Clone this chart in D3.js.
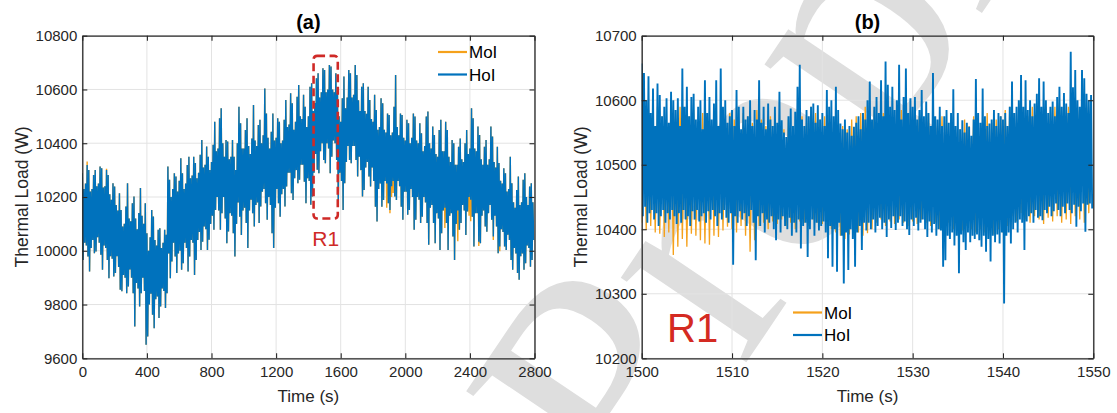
<!DOCTYPE html>
<html>
<head>
<meta charset="utf-8">
<script src="https://cdn.jsdelivr.net/npm/d3@7"></script>
<style>
  html, body { margin: 0; padding: 0; background: #fff; }
  svg { display: block; font-family: "Liberation Sans", Arial, Helvetica, sans-serif; }
</style>
</head>
<body>
<svg id="chart" width="1117" height="413"></svg>
<script>
// ---------- Panel (a): full run, 10 s bins (peak / trough of each bin) ----------
const binStartA = 0;
const binStepA = 10;
const hoiHighA = [
  10288,10230,10250,10319,10300,10220,10230,10282,10300,10240,10250,10313,10307,10235,10240,10300,10282,10210,10190,10251,
  10239,10170,10150,10214,10152,10090,10100,10165,10251,10120,10110,10177,10202,10120,10080,10140,10233,10130,10100,10177,
  10065,10000,10050,10152,10127,10040,10020,10078,10084,10010,10030,10078,10060,10313,10264,10200,10230,10288,10276,10220,
  10260,10344,10288,10230,10250,10319,10350,10270,10280,10350,10326,10270,10290,10357,10412,10310,10320,10388,10350,10300,
  10330,10394,10480,10370,10380,10493,10530,10400,10350,10412,10406,10340,10350,10412,10350,10300,10400,10536,10474,10380,
  10380,10449,10493,10390,10360,10418,10542,10410,10390,10468,10487,10400,10430,10604,10511,10420,10380,10443,10511,10410,
  10420,10493,10480,10400,10410,10487,10561,10460,10470,10586,10549,10450,10480,10573,10617,10500,10490,10580,10536,10460,
  10500,10610,10623,10520,10550,10642,10660,10570,10590,10679,10672,10590,10600,10691,10685,10600,10590,10660,10586,10500,
  10480,10567,10648,10530,10570,10672,10660,10570,10580,10691,10654,10560,10520,10610,10623,10520,10510,10610,10561,10490,
  10480,10580,10524,10450,10460,10567,10549,10450,10440,10511,10505,10430,10440,10536,10654,10460,10430,10511,10505,10420,
  10410,10487,10474,10400,10420,10511,10499,10410,10400,10474,10437,10370,10390,10499,10518,10400,10380,10462,10431,10360,
  10350,10449,10487,10370,10370,10480,10449,10350,10330,10412,10400,10320,10320,10387,10418,10340,10330,10400,10449,10360,
  10380,10530,10493,10380,10370,10462,10431,10340,10320,10387,10412,10320,10340,10462,10425,10330,10310,10387,10326,10260,
  10250,10307,10288,10220,10230,10350,10251,10180,10160,10226,10276,10170,10180,10264,10288,10200,10170,10239,10251,10180
];
const hoiLowA = [
  9966,10030,10020,9979,9923,10010,10040,9991,9997,10050,10030,9985,9929,10020,10010,9966,9898,9980,9970,9904,
  9917,9980,9940,9855,9849,9910,9900,9842,9867,9930,9900,9842,9718,9880,9860,9793,9842,9900,9850,9650,
  9681,9800,9840,9762,9712,9820,9830,9750,9793,9860,9850,9787,9842,9990,9898,9960,10030,9979,9917,9990,
  10000,9929,9954,10030,10010,9923,9979,10040,10030,9910,9966,10040,10070,10003,10034,10090,10080,10003,10041,10100,
  10130,10078,10152,10200,10150,10078,10140,10200,10120,10028,10072,10140,10130,10065,9979,10100,10180,10127,10059,10150,
  10160,10103,10010,10150,10190,10140,10090,10170,10180,10103,10165,10220,10230,10177,10115,10200,10170,10065,10010,10160,
  10230,10177,10127,10210,10230,10165,10239,10290,10290,10214,10189,10270,10300,10251,10264,10320,10320,10257,10177,10270,
  10260,10171,10202,10290,10360,10301,10288,10370,10400,10338,10326,10400,10380,10288,10350,10410,10400,10338,10177,10290,
  10260,10152,10251,10330,10390,10338,10326,10390,10390,10338,10276,10350,10300,10202,10226,10310,10330,10276,10239,10310,
  10260,10164,10109,10230,10250,10164,10189,10260,10250,10177,10152,10240,10260,10202,10189,10260,10240,10164,10115,10220,
  10220,10134,10152,10230,10200,10078,10115,10200,10190,10103,10127,10200,10180,10103,10022,10160,10170,10103,10028,10140,
  10120,10003,10065,10150,10160,10103,10003,10130,10140,10053,9966,10100,10150,10078,10103,10170,10150,10059,10146,10200,
  10190,10127,10016,10140,10140,10034,10028,10130,10150,10090,10071,10140,10170,10115,10053,10130,10090,9991,10016,10080,
  10070,10016,10003,10060,10040,9966,9929,10010,9990,9917,9892,9980,9990,9929,9954,10020,10010,9941,9966,10040
];
const moiHighA = [
  10288,10230,10250,10332,10300,10220,10230,10282,10300,10240,10250,10313,10307,10235,10240,10305,10282,10210,10190,10251,
  10239,10170,10150,10214,10152,10090,10100,10165,10251,10120,10110,10177,10202,10120,10080,10140,10233,10130,10100,10177,
  10065,10000,10050,10152,10127,10040,10020,10078,10084,10010,10030,10078,10060,10313,10264,10200,10230,10288,10276,10220,
  10260,10344,10288,10230,10250,10319,10350,10270,10280,10350,10326,10270,10290,10357,10412,10310,10320,10388,10350,10300,
  10330,10394,10480,10370,10380,10493,10530,10400,10350,10412,10406,10340,10350,10412,10350,10300,10400,10536,10474,10380,
  10380,10449,10493,10390,10360,10418,10542,10410,10390,10468,10487,10400,10430,10604,10511,10420,10380,10443,10511,10410,
  10420,10493,10480,10400,10410,10487,10561,10460,10470,10586,10549,10450,10480,10573,10617,10500,10490,10580,10536,10460,
  10500,10610,10623,10520,10550,10642,10660,10570,10590,10679,10672,10590,10600,10691,10685,10600,10590,10660,10586,10500,
  10480,10567,10648,10530,10570,10672,10660,10570,10580,10691,10654,10560,10520,10610,10623,10520,10510,10610,10561,10490,
  10480,10580,10524,10450,10460,10567,10549,10450,10440,10511,10505,10430,10440,10536,10654,10460,10430,10511,10505,10420,
  10410,10487,10474,10400,10420,10511,10499,10410,10400,10474,10437,10370,10390,10499,10518,10400,10380,10462,10431,10360,
  10350,10449,10487,10370,10370,10480,10449,10350,10330,10412,10400,10320,10320,10387,10418,10340,10330,10400,10449,10360,
  10380,10530,10493,10380,10370,10462,10431,10340,10320,10387,10412,10320,10340,10462,10425,10330,10310,10387,10326,10260,
  10250,10307,10288,10220,10230,10350,10251,10180,10160,10226,10276,10170,10180,10264,10288,10200,10170,10239,10251,10180
];
const moiLowA = [
  9966,10030,10020,9979,9923,10010,10040,9991,9997,10050,10030,9985,9929,10020,10010,9966,9898,9980,9970,9904,
  9917,9980,9940,9855,9849,9910,9900,9842,9867,9930,9900,9842,9718,9880,9860,9793,9842,9900,9850,9650,
  9681,9800,9840,9762,9712,9820,9830,9750,9793,9860,9850,9787,9842,9990,9898,9960,10030,9979,9917,9990,
  10000,9929,9954,10030,10010,9923,9979,10040,10030,9910,9966,10040,10070,10003,10034,10090,10080,10003,10041,10100,
  10130,10078,10152,10200,10150,10078,10140,10200,10120,10028,10072,10140,10130,10065,9979,10100,10180,10127,10059,10150,
  10160,10103,10010,10150,10190,10140,10090,10170,10180,10103,10165,10220,10230,10177,10115,10200,10170,10065,10010,10160,
  10230,10177,10127,10210,10230,10165,10239,10290,10290,10214,10189,10270,10300,10251,10264,10320,10320,10257,10177,10270,
  10260,10171,10202,10290,10360,10301,10288,10370,10400,10338,10326,10400,10380,10288,10350,10410,10400,10338,10177,10290,
  10260,10152,10251,10330,10390,10338,10326,10390,10390,10338,10276,10350,10300,10202,10226,10310,10330,10276,10239,10310,
  10260,10164,10109,10230,10250,10164,10189,10260,10160,10177,10140,10200,10215,10202,10189,10260,10240,10164,10115,10220,
  10220,10134,10152,10230,10200,10078,10115,10200,10190,10103,10127,10200,10180,10103,10022,10160,10170,10103,10028,10140,
  10120,10003,10065,10150,10085,10103,10003,10130,10140,10053,9966,10100,10035,10078,10103,10170,10150,10059,10146,10130,
  10110,10127,10016,10140,10140,10018,10028,10130,10150,10090,10071,10140,10170,10115,10040,10130,10090,9991,9998,10080,
  10070,10016,10003,10060,10040,9966,9929,10010,9990,9917,9892,9980,9990,9929,9954,10020,10010,9941,9966,10040
];
const xTicksA = [0, 400, 800, 1200, 1600, 2000, 2400, 2800];
const yTicksA = [9600, 9800, 10000, 10200, 10400, 10600, 10800];
// zoom window R1 marked on panel (a): [t0, t1] x [W0, W1]
const regionR1 = [1432, 1582, 10120, 10725];

// ---------- Panel (b): zoom on R1, 1500-1550 s ----------
const binStartB = 1500;
const hoiStepB = 0.25;
const hoiHighB = [
  10657,10642,10600,10637, 10580,10618,10560,10626, 10608,10575,10590,10603,
  10565,10613,10600,10585, 10603,10560,10649,10590, 10621,10575,10605,10610,
  10570,10590,10600,10555, 10631,10580,10605,10570, 10595,10631,10560,10649,
  10590,10600,10565,10575, 10585,10560,10616,10590, 10555,10590,10570,10575,
  10600,10560,10585,10570, 10631,10565,10590,10555, 10595,10570,10560,10590,
  10565,10613,10569,10550, 10543,10575,10587,10560, 10582,10621,10655,10570,
  10560,10585,10575,10590, 10595,10565,10592,10570, 10580,10560,10616,10590,
  10600,10575,10621,10585, 10564,10555,10570,10550, 10560,10545,10559,10565,
  10575,10555,10580,10570, 10600,10629,10570,10590, 10605,10580,10631,10575,
  10660,10624,10590,10621, 10585,10600,10655,10570, 10605,10649,10580,10603,
  10590,10605,10570,10585, 10616,10575,10598,10580, 10560,10642,10575,10570,
  10590,10560,10575,10585, 10565,10580,10617,10560, 10580,10555,10569,10550,
  10565,10559,10545,10570, 10633,10580,10565,10618, 10575,10560,10564,10570,
  10585,10560,10580,10575, 10570,10580,10560,10590, 10629,10580,10590,10600,
  10639,10590,10631,10585, 10600,10575,10595,10610, 10634,10590,10629,10600,
  10580,10590,10598,10575, 10605,10621,10590,10611, 10595,10580,10675,10620,
  10647,10600,10590,10647, 10634,10610,10600,10608
];
const hoiLowB = [
  10420,10435,10410,10425, 10430,10415,10425,10405, 10420,10430,10410,10425,
  10415,10430,10420,10408, 10425,10410,10430,10415, 10420,10405,10428,10415,
  10430,10412,10420,10425, 10410,10428,10415,10430, 10420,10405,10425,10415,
  10430,10418,10410,10425, 10345,10420,10410,10428, 10415,10425,10405,10420,
  10430,10410,10352,10420, 10405,10425,10395,10415, 10410,10420,10400,10383,
  10415,10395,10420,10405, 10400,10418,10390,10410, 10395,10415,10370,10405,
  10410,10357,10400,10415, 10390,10410,10398,10405, 10412,10395,10355,10405,
  10342,10400,10334,10410, 10390,10316,10395,10337, 10400,10385,10342,10395,
  10405,10368,10410,10398, 10410,10400,10415,10395, 10405,10418,10400,10410,
  10388,10415,10402,10420, 10399,10410,10420,10405, 10412,10400,10391,10415,
  10405,10418,10398,10410, 10415,10400,10388,10412, 10395,10408,10390,10400,
  10398,10342,10352,10390, 10385,10395,10375,10390, 10332,10392,10380,10368,
  10395,10380,10390,10385, 10392,10383,10373,10390, 10365,10385,10350,10390,
  10380,10392,10378,10395, 10285,10390,10395,10378, 10400,10410,10395,10415,
  10410,10368,10412,10420, 10425,10410,10430,10418, 10420,10414,10430,10425,
  10435,10420,10428,10440, 10430,10420,10435,10425, 10440,10430,10425,10438,
  10404,10435,10428,10440, 10396,10438,10440,10432
];
const moiStepB = 0.5;
const moiHighB = [
  10570,10585,10560,10590,10575,10565,10580,10570,10590,10560,
  10575,10585,10565,10580,10570,10560,10585,10575,10565,10580,
  10570,10560,10580,10575,10565,10585,10570,10560,10575,10580,
  10565,10555,10570,10560,10580,10575,10565,10590,10580,10570,
  10575,10560,10565,10550,10560,10555,10570,10575,10580,10590,
  10575,10585,10570,10580,10590,10575,10570,10585,10575,10580,
  10570,10575,10565,10580,10570,10560,10575,10565,10560,10550,
  10555,10570,10560,10575,10565,10570,10580,10565,10570,10575,
  10585,10590,10580,10595,10585,10575,10590,10585,10580,10590,
  10585,10590,10595,10580,10590,10600,10585,10595,10590,10592
];
const moiLowB = [
  10410,10399,10405,10395,10393,10388,10395,10360,10373,10385,
  10373,10393,10390,10383,10378,10376,10390,10388,10398,10404,
  10400,10395,10405,10390,10365,10383,10405,10410,10400,10412,
  10408,10415,10405,10410,10400,10412,10410,10405,10415,10410,
  10408,10412,10400,10395,10390,10385,10392,10388,10395,10390,
  10394,10400,10410,10415,10405,10412,10408,10415,10410,10405,
  10412,10408,10415,10410,10405,10410,10400,10405,10410,10400,
  10405,10398,10405,10400,10395,10400,10395,10398,10392,10400,
  10395,10405,10420,10412,10425,10415,10410,10420,10415,10408,
  10418,10412,10420,10410,10415,10408,10420,10415,10410,10425
];
const xTicksB = [1500, 1510, 1520, 1530, 1540, 1550];
const yTicksB = [10200, 10300, 10400, 10500, 10600, 10700];

const seriesNames = ["MoI", "HoI"];

// ---------- drawing ----------
const svg = d3.select("#chart");
const colour = { MoI: "#F5A11B", HoI: "#0072BD" };
const axisInk = "#262626";
const plotTop = 35.7, plotBottom = 358.3;

// light diagonal watermark behind the plots
svg.append("text")
  .attr("transform", "translate(640,520) rotate(-56)")
  .attr("font-family", "'Liberation Serif', 'DejaVu Serif', serif")
  .attr("font-size", 330)
  .attr("fill", "#dedede")
  .text("Preprint not peer reviewed");

// samples alternate between the two extremes of each bin
function binSeries(t0, step, first, second) {
  const pts = [];
  for (let i = 0; i < first.length; i++) {
    pts.push([t0 + i * step, first[i]]);
    pts.push([t0 + i * step + step / 2, second[i]]);
  }
  return pts;
}

function panel(cfg) {
  const x = d3.scaleLinear().domain(cfg.xDomain).range([cfg.left, cfg.right]);
  const y = d3.scaleLinear().domain(cfg.yDomain).range([plotBottom, plotTop]);
  const g = svg.append("g");

  // grid
  g.append("g").selectAll("line").data(cfg.xTicks).join("line")
    .attr("x1", d => x(d)).attr("x2", d => x(d))
    .attr("y1", plotTop).attr("y2", plotBottom)
    .attr("stroke", "#e3e3e3").attr("stroke-width", 1);
  g.append("g").selectAll("line").data(cfg.yTicks).join("line")
    .attr("x1", cfg.left).attr("x2", cfg.right)
    .attr("y1", d => y(d)).attr("y2", d => y(d))
    .attr("stroke", "#e3e3e3").attr("stroke-width", 1);

  // data lines
  const clipId = "clip-" + cfg.id;
  svg.append("clipPath").attr("id", clipId).append("rect")
    .attr("x", cfg.left).attr("y", plotTop)
    .attr("width", cfg.right - cfg.left).attr("height", plotBottom - plotTop);
  const line = d3.line().x(d => x(d[0])).y(d => y(d[1]));
  const lines = g.append("g").attr("clip-path", `url(#${clipId})`);
  cfg.series.forEach(s => {
    lines.append("path")
      .attr("d", line(s.points))
      .attr("fill", "none")
      .attr("stroke", colour[s.name])
      .attr("stroke-width", s.width)
      .attr("stroke-linejoin", "miter");
  });

  // box axes with inward ticks
  const fmt = d3.format("d");
  const styleAxis = sel => {
    sel.select(".domain").attr("stroke", axisInk).attr("stroke-width", 1.3);
    sel.selectAll(".tick line").attr("stroke", axisInk).attr("stroke-width", 1.1);
    sel.selectAll(".tick text").attr("fill", axisInk)
      .attr("font-size", 15).attr("font-family", "'Liberation Sans', Arial, sans-serif");
  };
  g.append("g").attr("transform", `translate(0,${plotBottom})`)
    .call(d3.axisBottom(x).tickValues(cfg.xTicks).tickFormat(fmt).tickSize(-5).tickSizeOuter(0).tickPadding(8))
    .call(styleAxis);
  g.append("g").attr("transform", `translate(0,${plotTop})`)
    .call(d3.axisTop(x).tickValues(cfg.xTicks).tickFormat("").tickSize(-5).tickSizeOuter(0))
    .call(styleAxis);
  g.append("g").attr("transform", `translate(${cfg.left},0)`)
    .call(d3.axisLeft(y).tickValues(cfg.yTicks).tickFormat(fmt).tickSize(-5).tickSizeOuter(0).tickPadding(5))
    .call(styleAxis);
  g.append("g").attr("transform", `translate(${cfg.right},0)`)
    .call(d3.axisRight(y).tickValues(cfg.yTicks).tickFormat("").tickSize(-5).tickSizeOuter(0))
    .call(styleAxis);

  // title and axis labels
  g.append("text").attr("x", (cfg.left + cfg.right) / 2).attr("y", 29)
    .attr("text-anchor", "middle").attr("font-weight", "bold").attr("font-size", 20)
    .attr("fill", "#000").text(cfg.title);
  g.append("text").attr("x", (cfg.left + cfg.right) / 2).attr("y", 402)
    .attr("text-anchor", "middle").attr("font-size", 17).attr("fill", axisInk)
    .text("Time (s)");
  g.append("text")
    .attr("transform", `translate(${cfg.left - 54.5},${(plotTop + plotBottom) / 2}) rotate(-90)`)
    .attr("text-anchor", "middle").attr("font-size", 17.5).attr("fill", axisInk)
    .text("Thermal Load (W)");

  // legend
  const lg = g.append("g");
  seriesNames.forEach((name, i) => {
    const ly = cfg.legend[1] + i * 22.5;
    lg.append("line").attr("x1", cfg.legend[0]).attr("x2", cfg.legend[0] + 29)
      .attr("y1", ly).attr("y2", ly).attr("stroke", colour[name]).attr("stroke-width", 2.2);
    lg.append("text").attr("x", cfg.legend[0] + 31).attr("y", ly + 6)
      .attr("font-size", 17).attr("fill", "#000").text(name);
  });
  return { g, x, y };
}

const pa = panel({
  id: "a", title: "(a)", left: 82.3, right: 534.5,
  xDomain: [0, 2800], yDomain: [9600, 10800],
  xTicks: xTicksA, yTicks: yTicksA,
  legend: [438, 52],
  series: [
    { name: "MoI", width: 1.4, points: binSeries(binStartA, binStepA, moiHighA, moiLowA) },
    { name: "HoI", width: 1.4, points: binSeries(binStartA, binStepA, hoiHighA, hoiLowA) }
  ]
});

// dashed window R1 on panel (a)
pa.g.append("rect")
  .attr("x", pa.x(regionR1[0])).attr("y", pa.y(regionR1[3]))
  .attr("width", pa.x(regionR1[1]) - pa.x(regionR1[0]))
  .attr("height", pa.y(regionR1[2]) - pa.y(regionR1[3]))
  .attr("rx", 3.5).attr("fill", "none")
  .attr("stroke", "#CF2A27").attr("stroke-width", 2.6)
  .attr("stroke-dasharray", "8,4.5");
pa.g.append("text")
  .attr("x", pa.x((regionR1[0] + regionR1[1]) / 2)).attr("y", 246)
  .attr("text-anchor", "middle").attr("font-size", 21).attr("fill", "#CF2A27")
  .text("R1");

const pb = panel({
  id: "b", title: "(b)", left: 641.7, right: 1093.3,
  xDomain: [1500, 1550], yDomain: [10200, 10700],
  xTicks: xTicksB, yTicks: yTicksB,
  legend: [793, 312.5],
  series: [
    { name: "MoI", width: 1.3, points: binSeries(binStartB, moiStepB, moiLowB, moiHighB) },
    { name: "HoI", width: 1.9, points: binSeries(binStartB, hoiStepB, hoiHighB, hoiLowB) }
  ]
});
pb.g.append("text").attr("x", 667).attr("y", 342)
  .attr("font-size", 40).attr("fill", "#D42A22").text("R1");
</script>
</body>
</html>
